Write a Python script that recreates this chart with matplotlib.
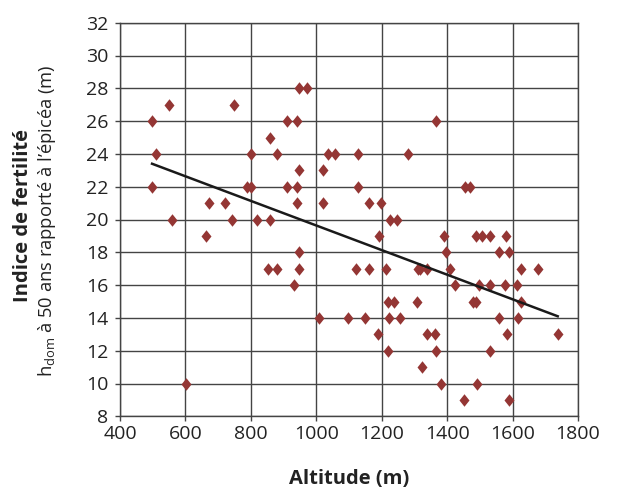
import numpy as np
import matplotlib
matplotlib.use("Agg")
import matplotlib.pyplot as plt

plt.rcParams['font.family'] = ['Open Sans', 'DejaVu Sans']
plt.rcParams['mathtext.fontset'] = 'custom'
plt.rcParams['mathtext.rm'] = 'Open Sans'
plt.rcParams['mathtext.it'] = 'Open Sans'

# altitude (m) et indice de fertilite (m)
altitude = [948, 972, 551, 750, 498, 910, 941, 860, 509, 800, 880, 948,
            498, 788, 800, 910, 941, 671, 721, 941, 559, 741, 819, 860,
            662, 948, 852, 880, 948, 932, 1007, 601,
            1366, 1035, 1057, 1129, 1280, 1022, 1129, 1019, 1160, 1197,
            1226, 1247, 1193, 1389, 1397,
            1122, 1160, 1214, 1312, 1318, 1338, 1409,
            1219, 1239, 1309, 1096, 1149, 1221, 1257,
            1190, 1338, 1364, 1220, 1367, 1324, 1380,
            1455, 1470, 1489, 1508, 1531, 1580, 1560, 1590,
            1625, 1677, 1424, 1498, 1531, 1577, 1615,
            1478, 1489, 1625, 1560, 1618, 1582, 1738, 1531, 1491, 1450, 1590]
indice = [28, 28, 27, 27, 26, 26, 26, 25, 24, 24, 24, 23,
          22, 22, 22, 22, 22, 21, 21, 21, 20, 20, 20, 20,
          19, 18, 17, 17, 17, 16, 14, 10,
          26, 24, 24, 24, 24, 23, 22, 21, 21, 21,
          20, 20, 19, 19, 18,
          17, 17, 17, 17, 17, 17, 17,
          15, 15, 15, 14, 14, 14, 14,
          13, 13, 13, 12, 12, 11, 10,
          22, 22, 19, 19, 19, 19, 18, 18,
          17, 17, 16, 16, 16, 16, 16,
          15, 15, 15, 14, 14, 13, 13, 12, 10, 9, 9]

# droite de tendance
tend_x = [498, 1738]
tend_y = [23.4, 14.1]

xticks = [400, 600, 800, 1000, 1200, 1400, 1600, 1800]
yticks = [8, 10, 12, 14, 16, 18, 20, 22, 24, 26, 28, 30, 32]

fig = plt.figure(figsize=(6.17, 4.91), dpi=100)
ax = fig.add_axes([120/617, 1-416.3/491, 458/617, 393.6/491])

grid_col = '#444444'
ax.set_xlim(400, 1800)
ax.set_ylim(8, 32)
ax.set_xticks(xticks)
ax.set_yticks(yticks)
ax.grid(True, color=grid_col, lw=1.0)
ax.set_axisbelow(True)
for s in ax.spines.values():
    s.set_color(grid_col)
    s.set_linewidth(1.0)
ax.tick_params(direction='out', length=3.5, width=1.0, color=grid_col,
               labelsize=14, colors='#222222')
ax.tick_params(axis='x', pad=3)
ax.tick_params(axis='y', pad=5)

diamond = [(0, 1), (0.8, 0), (0, -1), (-0.8, 0), (0, 1)]
ax.plot(altitude, indice, linestyle='none', marker=diamond, markersize=9,
        color='#943634', markeredgewidth=0, zorder=3)
ax.plot(tend_x, tend_y, color='#1a1a1a', lw=1.8, zorder=4)

fig.text(349/617, 1-479/491, 'Altitude (m)', ha='center', va='center',
         fontsize=14.5, fontweight='bold', color='#222222')
fig.text(23/617, 1-216/491, 'Indice de fertilité', ha='center', va='center',
         rotation=90, fontsize=14.5, fontweight='bold', color='#222222')
fig.text(47/617, 1-221/491, r'h$_{\mathrm{dom}}$ à 50 ans rapporté à l’épicéa (m)',
         ha='center', va='center', rotation=90, fontsize=13.2, color='#222222')

fig.savefig('out.png', dpi=100)
